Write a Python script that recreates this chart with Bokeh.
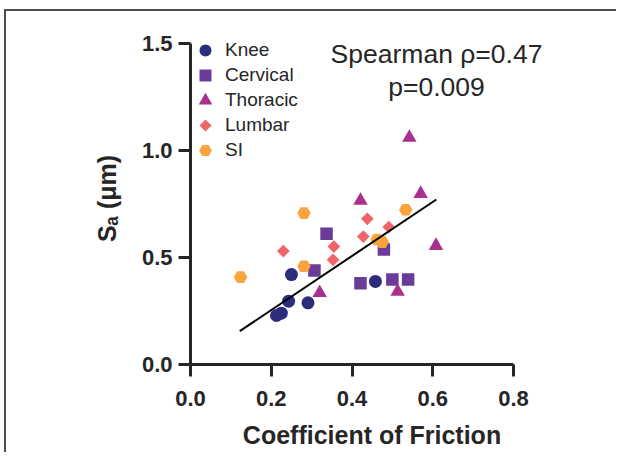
import numpy as np
from bokeh.plotting import figure
from bokeh.models import Range1d, FixedTicker, PrintfTickFormatter, Legend, LegendItem, Label
from bokeh.embed import file_html
from bokeh.resources import INLINE

# ---- data ----
groups = ["Knee", "Cervical", "Thoracic", "Lumbar", "SI"]
knee_x = [0.250, 0.243, 0.291, 0.213, 0.225, 0.458]
knee_y = [0.420, 0.296, 0.288, 0.229, 0.240, 0.388]
cerv_x = [0.337, 0.307, 0.479, 0.421, 0.500, 0.539]
cerv_y = [0.611, 0.439, 0.537, 0.380, 0.397, 0.397]
thor_x = [0.542, 0.570, 0.421, 0.608, 0.513, 0.320]
thor_y = [1.060, 0.798, 0.766, 0.555, 0.341, 0.335]
lumb_x = [0.230, 0.355, 0.353, 0.438, 0.428, 0.491]
lumb_y = [0.530, 0.551, 0.489, 0.681, 0.598, 0.642]
si_x = [0.124, 0.281, 0.281, 0.462, 0.475, 0.533]
si_y = [0.408, 0.707, 0.459, 0.584, 0.572, 0.723]
fit_x = [0.122, 0.609]
fit_y = [0.156, 0.771]
x_ticks = [0.0, 0.2, 0.4, 0.6, 0.8]
y_ticks = [0.0, 0.5, 1.0, 1.5]
stat_lines = ["Spearman \u03c1=0.47", "p=0.009"]

colors = ["#2c2e7b", "#6b3c97", "#a8318e", "#ef6468", "#fba43d"]
FONT = "Liberation Sans"
DARK = "#262626"

# ---- layout (pixels) ----
PX_X, PX_Y = 403.75, 214.0          # pixels per data unit
FRAME_W, FRAME_H = 363, 332
W, H = 612, 443
LEFT, TOP = 184, 21
x_end = FRAME_W / PX_X
y_end = FRAME_H / PX_Y

p = figure(width=W, height=H, output_backend="svg", toolbar_location=None,
           x_range=Range1d(0, x_end), y_range=Range1d(0, y_end),
           min_border_left=LEFT, min_border_right=W - LEFT - FRAME_W,
           min_border_top=TOP, min_border_bottom=H - TOP - FRAME_H)
p.styles = {"box-shadow": "-2px -2px 0px 0px #4d4d4d",
            "margin-left": "6px", "margin-top": "11px", "margin-bottom": "-14px"}
p.outline_line_color = None
p.grid.visible = False
p.background_fill_color = "white"
p.border_fill_color = "white"

for ax in (p.xaxis[0], p.yaxis[0]):
    ax.axis_line_width = 3
    ax.axis_line_color = DARK
    ax.major_tick_line_width = 3
    ax.major_tick_line_color = DARK
    ax.major_tick_out = 12
    ax.major_tick_in = 0
    ax.minor_tick_line_color = None
    ax.major_label_text_font = FONT
    ax.major_label_text_font_style = "bold"
    ax.major_label_text_font_size = "22px"
    ax.major_label_text_color = DARK
    ax.formatter = PrintfTickFormatter(format="%.1f")
    ax.axis_label_text_font = FONT
    ax.axis_label_text_font_style = "bold"
    ax.axis_label_text_font_size = "25px"
    ax.axis_label_text_color = DARK

p.xaxis.ticker = FixedTicker(ticks=x_ticks)
p.yaxis.ticker = FixedTicker(ticks=y_ticks)
p.xaxis.bounds = (x_ticks[0], x_ticks[-1])
p.yaxis.bounds = (y_ticks[0], y_ticks[-1])
p.xaxis.major_label_standoff = 14
p.yaxis.major_label_standoff = 6
p.xaxis.axis_label = "Coefficient of Friction"
p.xaxis.axis_label_standoff = 12
p.yaxis.axis_label = "S\u2090 (\u03bcm)"
p.yaxis.axis_label_standoff = 18

# ---- scatter ----
r_knee = p.scatter(knee_x, knee_y, marker="circle", size=13, fill_color=colors[0], line_color=None)
r_cerv = p.scatter(cerv_x, cerv_y, marker="square", size=12.5, fill_color=colors[1], line_color=None)
r_thor = p.scatter(thor_x, thor_y, marker="triangle", size=14.5, fill_color=colors[2], line_color=None)
r_lumb = p.scatter(lumb_x, lumb_y, marker="square", angle=np.pi / 4, size=9, fill_color=colors[3], line_color=None)
r_si = p.scatter(si_x, si_y, marker="hex", size=13.5, fill_color=colors[4], line_color=None)
p.line(fit_x, fit_y, line_color="black", line_width=2)

def dx(px):
    return (px - 190) / PX_X

def dy(py):
    return (364 - py) / PX_Y

# legend key for Lumbar: legends draw markers unrotated, so draw the diamond key here
r_lumb_key = p.scatter([], [], marker="square", size=1, fill_alpha=0, line_alpha=0)
p.scatter([dx(205)], [dy(125)], marker="square", angle=np.pi / 4, size=8.5,
          fill_color=colors[3], line_color=None)

# ---- legends (one per item so glyph sizes can differ) ----
renderers = [r_knee, r_cerv, r_thor, r_lumb_key, r_si]
glyph_box = [30, 30, 34, 24, 32]
for i, (name, r, g) in enumerate(zip(groups, renderers, glyph_box)):
    yc = (50 + 25 * i) - (364 - FRAME_H)     # row centre below frame top (px)
    leg = Legend(items=[LegendItem(label=name, renderers=[r])],
                 location=(int(15 - g // 2), int(FRAME_H - yc - g // 2)),
                 glyph_width=g, glyph_height=g, label_height=g,
                 label_standoff=int(20 - g // 2), padding=0, margin=0, spacing=0,
                 border_line_color=None, background_fill_alpha=0,
                 label_text_font=FONT, label_text_font_size="19px",
                 label_text_color=DARK)
    p.add_layout(leg)

# ---- statistics annotation ----
for txt, py in zip(stat_lines, [53, 86]):
    p.add_layout(Label(x=dx(436), y=dy(py), text=txt,
                       text_font=FONT, text_font_size="26.5px", text_color=DARK,
                       text_align="center", text_baseline="alphabetic"))

open("out.html", "w").write(file_html(p, INLINE))
